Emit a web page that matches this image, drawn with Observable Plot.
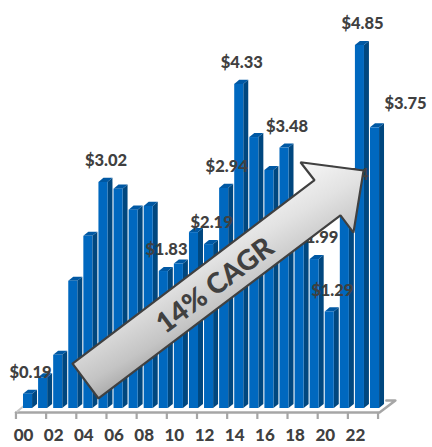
<!DOCTYPE html>
<html><head><meta charset="utf-8">
<script src="https://cdn.jsdelivr.net/npm/d3@7"></script>
<script src="https://cdn.jsdelivr.net/npm/@observablehq/plot@0.6"></script>
<style>html,body{margin:0;padding:0;background:#fff}svg{display:block}</style>
</head><body><div id="c"></div>
<script>
const years = d3.range(24);
const values = [0.19,0.41,0.71,1.70,2.30,3.02,2.93,2.65,2.70,1.83,1.93,2.35,2.19,2.94,4.33,3.62,3.18,3.48,2.40,1.99,1.29,2.84,4.85,3.75];
const labelled = [0,5,9,12,13,14,17,19,20,21,22];
const tickLabelYears = d3.range(0,23,2);
const arrowShape = [[3.25,0.60],[4.97,0.134],[21.01,2.58],[21.87,2.35],[22.54,3.18],[18.36,3.29],[19.29,3.05],[3.25,0.60]];
const floorEdge = [[-0.5,-0.053],[23.6,-0.053],[24.65,0.107],[24.05,0.107]];
const floorLeft = [[-0.5,-0.053],[0,0.03]];
const bars = years.map(i=>({i,v:values[i]}));
const W=0.6, DX=0.33, DY=0.055;
const side = bars.flatMap(b=>[{i:b.i,x:b.i+W,y1:0,y2:b.v},{i:b.i,x:b.i+W+DX,y1:DY,y2:b.v+DY}]);
const top3d = bars.flatMap(b=>[
  {i:b.i,x:b.i,y1:b.v,y2:b.v},
  {i:b.i,x:b.i+DX,y1:b.v,y2:b.v+DY},
  {i:b.i,x:b.i+W,y1:b.v,y2:b.v+DY},
  {i:b.i,x:b.i+W+DX,y1:b.v+DY,y2:b.v+DY}]);
const ink="#404040";
const fontBold={fontFamily:"Lato",fontWeight:900,fill:ink};
const defs=()=>{const s=d3.create("svg:defs");
  const g=s.append("linearGradient").attr("id","arrowGrad").attr("gradientUnits","userSpaceOnUse")
    .attr("x1",146).attr("y1",253).attr("x2",198).attr("y2",344);
  [[0,"#f6f6f6"],[0.385,"#e2e2e2"],[0.79,"#c4c4c4"],[1,"#a8a8a8"]].forEach(([o,c])=>g.append("stop").attr("offset",o).attr("stop-color",c));
  return s.node();};
const chart=Plot.plot({
  width:432,height:447,marginLeft:23,marginRight:62,marginTop:45,marginBottom:39,
  style:{background:"#fff",overflow:"visible"},
  x:{domain:[0,23],axis:null},
  y:{domain:[0,4.85],axis:null},
  marks:[
    defs,
    Plot.line(floorEdge,{x:d=>d[0],y:d=>d[1],stroke:"#a6a6a6",strokeWidth:2.5}),
    Plot.line(floorLeft,{x:d=>d[0],y:d=>d[1],stroke:"#c8c8c8",strokeWidth:2}),
    Plot.ruleX(d3.range(0,13).map(k=>k*2-0.5),{x:d=>d,y1:-0.053,y2:-0.147,stroke:"#a6a6a6",strokeWidth:2.2}),
    Plot.areaY(side,{x:"x",y1:"y1",y2:"y2",z:"i",fill:"#00477f"}),
    Plot.areaY(top3d,{x:"x",y1:"y1",y2:"y2",z:"i",fill:"#0058a3"}),
    Plot.rectY(bars,{x1:"i",x2:d=>d.i+W,y1:0,y2:"v",fill:"#0068bf",inset:0}),
    Plot.axisX({ticks:tickLabelYears,tickFormat:d=>String(d).padStart(2,"0"),tickSize:0,tickPadding:27,anchor:"bottom",fontSize:17,fontFamily:"Lato",fontWeight:900,color:ink,label:null,lineAnchor:"middle"}),
    Plot.text(labelled,{x:d=>d+0.47,y:d=>values[d],dy:-21.5,text:d=>"$"+values[d].toFixed(2),fontSize:16.5,...fontBold}),
    Plot.text([23],{x:d=>d+0.47,y:d=>values[d],dx:28,dy:-24,text:d=>"$"+values[d].toFixed(2),fontSize:16.5,...fontBold}),
    Plot.line(arrowShape,{x:d=>d[0],y:d=>d[1],fill:"url(#arrowGrad)",stroke:"#404040",strokeWidth:2.2,strokeLinejoin:"miter"}),
    Plot.text(["14% CAGR"],{x:[12.7],y:[1.64],text:d=>d,rotate:-37,fontSize:28,...fontBold})
  ]
});
document.getElementById("c").append(chart);
</script></body></html>
